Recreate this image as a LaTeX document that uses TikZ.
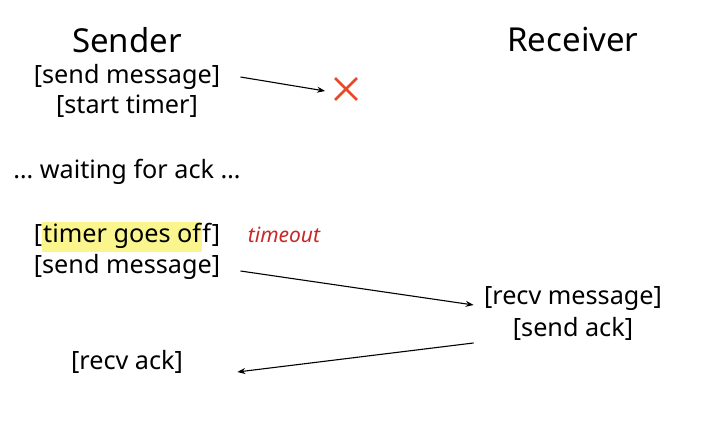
\documentclass[tikz,border=0pt]{standalone}
\usepackage{fontspec}
\setmainfont{Noto Sans}
\usetikzlibrary{arrows.meta, shapes.misc}

\definecolor{hilite}{RGB}{250,245,140}
\definecolor{crossred}{RGB}{232,72,38}
\definecolor{notered}{RGB}{200,40,40}

\tikzstyle{title} = [font=\fontsize{16.5}{18}\selectfont, inner sep=0pt]
\tikzstyle{event} = [font=\fontsize{12.6}{14}\selectfont, inner sep=1pt]
\tikzstyle{lostmark} = [cross out, draw=crossred, line width=1.4pt, minimum size=9.5pt, inner sep=0pt]
\tikzstyle{msg} = [-{Stealth[length=4pt, width=3pt]}, line width=0.55pt]

\newcommand{\hl}[1]{{\setlength{\fboxsep}{0.6pt}\colorbox{hilite}{\strut #1}}}

\begin{document}
\begin{tikzpicture}[x=0.5pt, y=-0.5pt]
		\useasboundingbox (0,0) rectangle (720,424);
		% Nodes
		\node (sender) [title] at (127, 40) {Sender};
		\node (receiver) [title] at (573, 40) {Receiver};
		\node (send1) [event] at (127, 77) {[send message]};
		\node (timer) [event] at (127, 106) {[start timer]};
		\node (lost) [lostmark] at (346, 89) {};
		\node (wait) [event] at (127, 172) {\dots\ waiting for ack \dots};
		\node (off) [event] at (127, 237) {[\hl{timer goes of}f]};
		\node (note) [text=notered, font=\fontsize{10.5}{11}\selectfont\itshape] at (284, 235) {timeout};
		\node (send2) [event] at (127, 267) {[send message]};
		\node (recv) [event] at (573, 299) {[recv message]};
		\node (ack) [event] at (573, 329) {[send ack]};
		\node (gotack) [event] at (127, 362) {[recv ack]};
		% Arrows
		\draw [msg] ([xshift=9pt]send1.east) -- ([xshift=-5pt, yshift=-1pt]lost.west);
		\draw [msg] ([xshift=9pt, yshift=-2pt]send2.east) -- ([xshift=-4pt, yshift=-3pt]recv.west);
		\draw [msg] ([xshift=-4pt]recv.west |- ack.south) -- ([xshift=26pt, yshift=-5pt]gotack.east);
	\end{tikzpicture}
\end{document}
